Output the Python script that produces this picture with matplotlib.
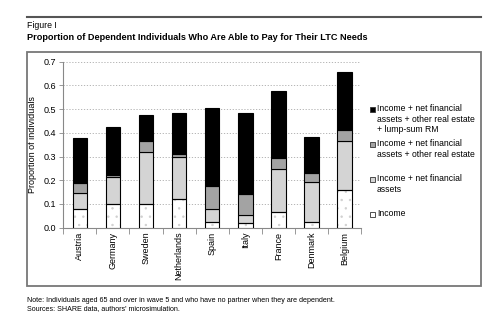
import numpy as np
import matplotlib
matplotlib.use('Agg')
import matplotlib.pyplot as plt
from matplotlib import font_manager
from matplotlib.patches import Rectangle
from matplotlib.lines import Line2D

plt.rcParams['font.family'] = ['Liberation Sans', 'DejaVu Sans']
plt.rcParams['hatch.linewidth'] = 0.5
names = set(f.name for f in font_manager.fontManager.ttflist)
narrow = 'Liberation Sans Narrow' in names

countries = ['Austria', 'Germany', 'Sweden', 'Netherlands', 'Spain',
             'Italy', 'France', 'Denmark', 'Belgium']
# cumulative levels
income = [0.077, 0.101, 0.101, 0.122, 0.024, 0.018, 0.066, 0.025, 0.159]
income_fin = [0.148, 0.212, 0.318, 0.300, 0.077, 0.055, 0.246, 0.191, 0.367]
income_fin_re = [0.187, 0.224, 0.367, 0.309, 0.177, 0.142, 0.293, 0.229, 0.412]
income_fin_re_rm = [0.380, 0.426, 0.477, 0.484, 0.505, 0.482, 0.577, 0.384, 0.658]
yticks = [0.0, 0.1, 0.2, 0.3, 0.4, 0.5, 0.6, 0.7]
legend_labels = ['Income + net financial\nassets + other real estate\n+ lump-sum RM',
                 'Income + net financial\nassets + other real estate',
                 'Income + net financial\nassets',
                 'Income']

W, H = 500, 323
fig = plt.figure(figsize=(W / 100, H / 100), dpi=100)

def fx(px):
    return px / W

def fy(py):
    return 1 - py / H

if narrow:
    head = dict(family='Liberation Sans Narrow')
    t_size, n_size = 8.6, 6.0
else:
    head = dict()
    t_size, n_size = 6.6, 5.1

# header rule and frame
fig.add_artist(Line2D([fx(27), fx(481)], [fy(17), fy(17)], color='#555555', lw=1.5))
fig.text(fx(27), fy(26), 'Figure I', fontsize=t_size - 0.3, va='center', ha='left', **head)
fig.text(fx(27), fy(38), 'Proportion of Dependent Individuals Who Are Able to Pay for Their LTC Needs',
         fontsize=t_size, fontweight='bold', va='center', ha='left', **head)
fig.add_artist(Rectangle((fx(27), fy(286)), fx(481) - fx(27), fy(52) - fy(286),
                         fill=False, edgecolor='#777777', lw=1.3))
fig.text(fx(27), fy(300), 'Note: Individuals aged 65 and over in wave 5 and who have no partner when they are dependent.',
         fontsize=n_size, va='center', ha='left', **head)
fig.text(fx(27), fy(309), "Sources: SHARE data, authors' microsimulation.",
         fontsize=n_size, va='center', ha='left', **head)

ax = fig.add_axes([fx(63.3), fy(227.7), fx(361) - fx(63.3), fy(61.7) - fy(227.7)])

x = np.arange(len(countries))
bw = 0.44
inc = np.array(income)
fin = np.array(income_fin)
re = np.array(income_fin_re)
rm = np.array(income_fin_re_rm)

ax.bar(x, inc, bw, color='white', edgecolor='#d0d0d0', hatch='..', lw=0, zorder=3)
ax.bar(x, inc, bw, color='none', edgecolor='black', lw=0.8, zorder=4)
ax.bar(x, fin - inc, bw, bottom=inc, color='#d4d4d4', edgecolor='black', lw=0.8, zorder=3)
ax.bar(x, re - fin, bw, bottom=fin, color='#a3a3a3', edgecolor='black', lw=0.8, zorder=3)
ax.bar(x, rm - re, bw, bottom=re, color='black', edgecolor='black', lw=0.8, zorder=3)

ax.set_xlim(-0.5, len(countries) - 0.5)
ax.set_ylim(0, 0.7)
ax.set_yticks(yticks)
ax.set_yticklabels(['%.1f' % v for v in yticks], fontsize=6.5)
ax.set_xticks(x)
ax.set_xticklabels(countries, rotation=90, fontsize=6.5)
ax.tick_params(axis='x', length=0, pad=3)
ax.set_xticks(np.arange(len(countries) + 1) - 0.5, minor=True)
ax.tick_params(axis='x', which='minor', length=4, color='#888888', width=0.6)
ax.tick_params(axis='y', length=3, color='#888888', width=0.6, pad=2)
ax.set_ylabel('Proportion of individuals', fontsize=6.5, labelpad=5)
ax.yaxis.grid(True, linestyle=(0, (1.5, 2)), color='#aaaaaa', lw=0.6, zorder=0)
for s in ['top', 'right']:
    ax.spines[s].set_visible(False)
for s in ['left', 'bottom']:
    ax.spines[s].set_color('#888888')
    ax.spines[s].set_linewidth(0.8)

# legend drawn by hand to match the uneven spacing
leg_colors = ['black', '#a3a3a3', '#d4d4d4', 'white']
leg_y = [109, 144, 179, 214]
for lab, col, ly in zip(legend_labels, leg_colors, leg_y):
    fig.add_artist(Rectangle((fx(370), fy(ly + 2.5)), fx(5), fy(0) - fy(5),
                             facecolor=col, edgecolor='#333333', lw=0.6))
    fig.text(fx(377), fy(ly - 5), lab, fontsize=6.2, va='top', ha='left', linespacing=1.25)

fig.savefig('out.png', dpi=100)
